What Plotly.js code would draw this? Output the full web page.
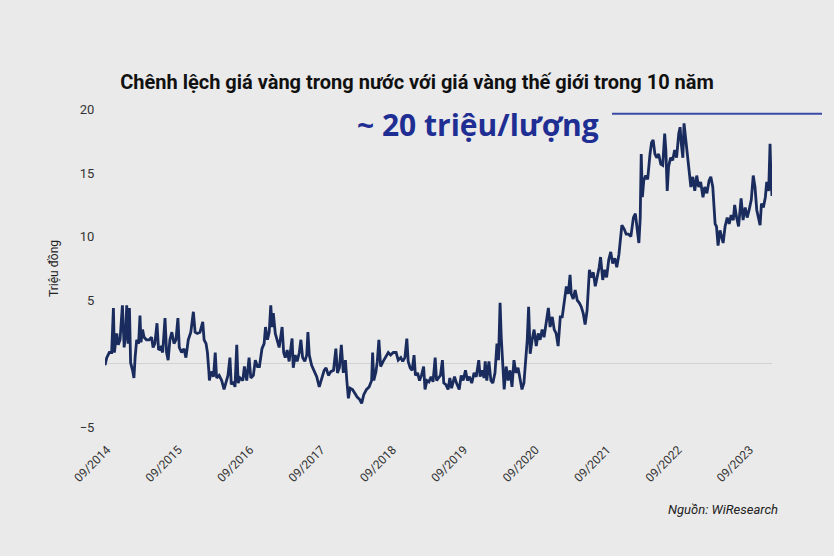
<!DOCTYPE html>
<html>
<head>
<meta charset="utf-8">
<script src="https://cdn.plot.ly/plotly-3.0.1.min.js"></script>
<style>
  html, body { margin: 0; padding: 0; background: #eaeaea; }
  #chart { width: 834px; height: 556px; }
</style>
</head>
<body>
<div id="chart"></div>
<script>
// Chênh lệch giá vàng (triệu đồng/lượng)
const dates = [
  '2014-08-21','2014-08-30','2014-09-12','2014-09-24','2014-10-03','2014-10-08','2014-10-20','2014-10-28',
  '2014-11-06','2014-11-18','2014-11-27','2014-12-05','2014-12-10','2014-12-17','2014-12-24','2014-12-30',
  '2015-01-09','2015-01-16','2015-01-22','2015-01-30','2015-02-09','2015-02-16','2015-02-21','2015-03-01',
  '2015-03-09','2015-03-21','2015-04-04','2015-04-16','2015-04-24','2015-05-03','2015-05-14','2015-05-22',
  '2015-06-02','2015-06-12','2015-06-24','2015-07-02','2015-07-10','2015-07-19','2015-07-29','2015-08-09',
  '2015-08-19','2015-08-29','2015-09-05','2015-09-17','2015-09-29','2015-10-09','2015-10-21','2015-11-03',
  '2015-11-16','2015-11-25','2015-12-06','2015-12-20','2016-01-03','2016-01-10','2016-01-20','2016-01-27',
  '2016-02-03','2016-02-06','2016-02-15','2016-02-27','2016-03-07','2016-03-14','2016-03-27','2016-04-09',
  '2016-04-21','2016-05-01','2016-05-11','2016-05-21','2016-05-28','2016-06-08','2016-06-16','2016-06-25',
  '2016-07-02','2016-07-12','2016-07-26','2016-08-03','2016-08-15','2016-08-27','2016-09-05','2016-09-18',
  '2016-09-28','2016-10-09','2016-10-19','2016-11-01','2016-11-12','2016-11-19','2016-11-29','2016-12-08',
  '2016-12-16','2016-12-23','2016-12-29','2017-01-08','2017-01-17','2017-01-28','2017-02-12','2017-02-20',
  '2017-02-28','2017-03-10','2017-03-20','2017-04-04','2017-04-10','2017-04-20','2017-04-30','2017-05-11',
  '2017-05-19','2017-05-28','2017-06-08','2017-06-18','2017-06-24','2017-07-01','2017-07-13','2017-07-25',
  '2017-08-08','2017-08-21','2017-09-03','2017-09-15','2017-09-25','2017-10-07','2017-10-19','2017-11-02',
  '2017-11-14','2017-11-22','2017-12-02','2017-12-12','2017-12-22','2018-01-02','2018-01-09','2018-01-17',
  '2018-01-26','2018-02-07','2018-02-19','2018-03-03','2018-03-16','2018-03-26','2018-04-06','2018-04-20',
  '2018-05-03','2018-05-16','2018-05-21','2018-05-27','2018-06-07','2018-06-14','2018-06-22','2018-07-01',
  '2018-07-14','2018-07-26','2018-08-09','2018-08-21','2018-09-04','2018-09-18','2018-09-29','2018-10-12',
  '2018-10-22','2018-11-02','2018-11-12','2018-11-19','2018-11-29','2018-12-09','2018-12-19','2018-12-26',
  '2019-01-06','2019-01-16','2019-01-26','2019-02-06','2019-02-13','2019-02-23','2019-03-05','2019-03-16',
  '2019-03-26','2019-04-06','2019-04-13','2019-04-23','2019-05-03','2019-05-13','2019-05-20','2019-05-30',
  '2019-06-11','2019-06-20','2019-06-29','2019-07-14','2019-07-24','2019-08-07','2019-08-17','2019-08-27',
  '2019-09-08','2019-09-18','2019-09-28','2019-10-10','2019-10-22','2019-11-02','2019-11-15','2019-11-22',
  '2019-12-02','2019-12-12','2019-12-18','2019-12-26','2020-01-06','2020-01-16','2020-01-26','2020-02-06',
  '2020-02-16','2020-02-24','2020-03-03','2020-03-09','2020-03-16','2020-03-24','2020-04-03','2020-04-13',
  '2020-04-23','2020-05-03','2020-05-13','2020-05-23','2020-06-03','2020-06-13','2020-06-23','2020-07-03',
  '2020-07-13','2020-07-20','2020-07-27','2020-08-04','2020-08-14','2020-08-24','2020-09-04','2020-09-14',
  '2020-09-24','2020-10-04','2020-10-14','2020-10-24','2020-11-05','2020-11-14','2020-11-25','2020-12-05',
  '2020-12-15','2020-12-25','2021-01-05','2021-01-15','2021-01-25','2021-02-05','2021-02-15','2021-02-24',
  '2021-03-02','2021-03-12','2021-03-22','2021-04-02','2021-04-12','2021-04-22','2021-05-02','2021-05-12',
  '2021-05-22','2021-06-03','2021-06-13','2021-06-23','2021-07-03','2021-07-13','2021-07-23','2021-07-30',
  '2021-08-10','2021-08-20','2021-08-30','2021-09-10','2021-09-20','2021-09-30','2021-10-11','2021-10-21',
  '2021-11-01','2021-11-16','2021-11-28','2021-12-08','2021-12-20','2022-01-01','2022-01-14','2022-01-24',
  '2022-02-04','2022-02-11','2022-02-18','2022-02-23','2022-03-01','2022-03-08','2022-03-18','2022-03-28',
  '2022-04-09','2022-04-17','2022-04-25','2022-05-04','2022-05-13','2022-05-23','2022-06-03','2022-06-13',
  '2022-06-23','2022-06-29','2022-07-06','2022-07-13','2022-07-23','2022-08-03','2022-08-13','2022-08-23',
  '2022-09-03','2022-09-10','2022-09-16','2022-09-24','2022-09-30','2022-10-07','2022-10-14','2022-10-21',
  '2022-10-27','2022-11-04','2022-11-14','2022-11-24','2022-12-04','2022-12-14','2022-12-24','2023-01-05',
  '2023-01-14','2023-01-25','2023-02-05','2023-02-14','2023-02-24','2023-03-02','2023-03-08','2023-03-15',
  '2023-03-23','2023-04-02','2023-04-10','2023-04-18','2023-04-28','2023-05-09','2023-05-19','2023-05-29',
  '2023-06-09','2023-06-16','2023-06-26','2023-07-06','2023-07-19','2023-07-29','2023-08-09','2023-08-19',
  '2023-08-29','2023-09-09','2023-09-19','2023-09-28','2023-10-07','2023-10-17','2023-10-24','2023-10-31',
  '2023-11-10','2023-11-20','2023-11-27','2023-12-07','2023-12-14','2023-12-19','2023-12-24'
];

const gap = [
  -0.1, 0.5, 0.9, 0.9, 4.4, 0.9, 2.4, 1.5,
  1.9, 4.6, 1.3, 2.4, 4.6, 1.6, 4.4, 0.1,
  -0.5, -1.1, 0.5, 1.9, 1.6, 3.8, 1.7, 2.7,
  2.1, 1.9, 1.9, 2.1, 1.3, 1.6, 3.2, 1.1,
  1.3, 0.9, 3.6, 0.9, 0.3, 1.9, 2.5, 1.6,
  1.9, 3.6, 1.3, 0.9, 1.2, 0.5, 1.9, 2.5,
  4.1, 2.5, 2.4, 2.5, 3.3, 1.9, 1.6, 0.9,
  -0.5, -1.3, -0.6, -1.0, 0.9, -1.1, -0.9, -1.3,
  -2.0, -1.5, -0.9, 0.5, -1.6, -1.4, -1.8, 1.5,
  -1.5, -1.1, -1.3, -0.2, -1.3, 0.5, -1.1, -0.9,
  0.3, -0.2, -0.2, 1.2, 1.6, 2.9, 1.9, 2.5,
  4.6, 2.9, 4.0, 2.4, 1.9, 1.3, 2.9, 0.9,
  0.5, 1.1, 0.2, 2.0, -0.3, 0.7, 0.2, 0.9,
  1.9, 0.5, 0.2, 0.7, 2.5, 0.7, -0.1, -0.5,
  -1.0, -1.8, -1.0, -0.5, -0.3, -0.9, -0.6, -0.5,
  1.2, -0.7, -0.3, 1.5, -0.7, 0.3, -1.3, -2.7,
  -1.9, -2.0, -2.3, -2.6, -2.8, -3.1, -2.4, -2.0,
  -1.8, -1.3, 0.9, -1.3, -0.6, 0.2, 1.9, -0.2,
  0.2, 0.5, 0.9, 0.7, 0.9, 0.9, 0.3, 0.5,
  0.2, 0.5, 2.0, 0.2, -0.3, -0.5, 0.7, -0.9,
  -0.7, -1.3, -0.9, -0.2, -2.0, -1.3, -1.4, -1.0,
  -1.4, 0.5, -1.3, -1.1, -0.9, 0.3, -1.5, -1.6,
  -2.0, -1.1, -1.9, -1.0, -1.5, -2.0, -0.9, -1.3,
  -0.5, -1.3, -1.0, -1.5, -0.7, -1.0, 0.3, -1.0,
  -0.5, -1.1, 0.2, -1.3, 0.2, -1.3, -1.5, -0.7,
  1.6, 0.3, 4.8, 2.1, -0.2, -2.0, -0.2, -1.3,
  -0.5, -1.8, 0.3, -0.7, -0.3, -1.3, -2.0, -1.5,
  0.8, 1.9, 4.5, 0.8, 1.9, 2.7, 1.4, 2.4,
  1.9, 2.7, 2.1, 3.2, 4.4, 2.9, 3.7, 2.7,
  2.4, 1.4, 3.7, 3.7, 5.0, 6.1, 5.5, 7.0,
  5.5, 5.1, 5.8, 5.0, 4.8, 4.5, 4.0, 3.1,
  4.2, 7.4, 6.8, 7.2, 6.1, 6.8, 7.6, 8.4,
  6.6, 7.4, 6.8, 8.2, 8.8, 7.9, 8.3, 7.6,
  8.6, 10.9, 10.6, 10.2, 10.2, 10.0, 11.5, 11.8,
  10.2, 9.5, 11.5, 16.5, 13.1, 14.4, 14.8, 14.5,
  16.5, 17.4, 17.6, 16.5, 16.2, 16.5, 15.7, 15.6,
  18.1, 16.8, 13.6, 15.5, 16.2, 16.0, 16.8, 16.2,
  18.1, 18.6, 17.3, 16.2, 18.9, 17.8, 17.0, 16.0,
  14.7, 13.9, 14.7, 13.6, 14.8, 13.9, 14.3, 13.1,
  13.9, 13.4, 14.4, 14.7, 13.9, 11.8, 11.0, 10.8,
  9.3, 10.5, 10.0, 9.5, 10.8, 11.5, 11.0, 11.7,
  11.3, 12.5, 11.5, 10.8, 13.0, 11.3, 12.3, 11.5,
  12.1, 12.9, 14.8, 13.9, 12.1, 11.5, 10.9, 12.6,
  12.3, 13.1, 14.3, 13.6, 17.3, 14.4, 13.2
];

const xTickVals = ['2014-09-01','2015-09-01','2016-09-01','2017-09-01','2018-09-01',
                   '2019-09-01','2020-09-01','2021-09-01','2022-09-01','2023-09-01'];
const xTickText = ['09/2014','09/2015','09/2016','09/2017','09/2018',
                   '09/2019','09/2020','09/2021','09/2022','09/2023'];
const yTickVals = [-5, 5, 10, 15, 20];

const trace = {
    x: dates,
    y: gap,
    type: 'scatter',
    mode: 'lines',
    line: { color: '#1a2c5e', width: 2.8 },
    hoverinfo: 'skip'
};

const layout = {
    width: 834,
    height: 556,
    margin: { t: 103, b: 122, l: 105, r: 62 },
    paper_bgcolor: '#eaeaea',
    plot_bgcolor: '#eaeaea',
    font: { family: 'Roboto, sans-serif', color: '#333' },
    showlegend: false,
    title: {
        text: '<b>Chênh lệch giá vàng trong nước với giá vàng thế giới trong 10 năm</b>',
        font: { size: 20, color: '#111' },
        x: 0.5, xanchor: 'center',
        y: 1 - 82 / 556, yref: 'container', yanchor: 'middle'
    },
    xaxis: {
        type: 'date',
        range: ['2014-08-21', '2023-12-24'],
        tickvals: xTickVals,
        ticktext: xTickText,
        tickangle: -45,
        tickfont: { size: 12, color: '#333' },
        ticks: 'outside', ticklen: 3, tickcolor: 'rgba(0,0,0,0)',
        showgrid: false, zeroline: false, showline: false
    },
    yaxis: {
        range: [-5.5, 20.5],
        tickvals: yTickVals,
        tickfont: { size: 13, color: '#333' },
        ticks: 'outside', ticklen: 7, tickcolor: 'rgba(0,0,0,0)',
        showgrid: false, showline: false,
        zeroline: true, zerolinecolor: '#d2d2d2', zerolinewidth: 1,
        title: { text: 'Triệu đồng', font: { size: 12, color: '#222' }, standoff: 18 }
    },
    annotations: [
        {
            text: '<b>~ 20 triệu/lượng</b>',
            xref: 'paper', yref: 'paper',
            x: (478 - 105) / 667, y: (434 - 124) / 332,
            xanchor: 'center', yanchor: 'middle',
            showarrow: false,
            font: { family: '"Open Sans", Roboto, sans-serif', size: 30, color: '#1f2e93' }
        },
        {
            text: '<i>Nguồn: WiResearch</i>',
            xref: 'paper', yref: 'paper',
            x: (780 - 105) / 667, y: (434 - 510) / 332,
            xanchor: 'right', yanchor: 'middle',
            showarrow: false,
            font: { size: 13, color: '#222' }
        }
    ],
    shapes: [
        {
            type: 'line',
            xref: 'paper', yref: 'y',
            x0: (612 - 105) / 667, x1: (822 - 105) / 667,
            y0: 19.65, y1: 19.65,
            line: { color: '#3b4aa6', width: 2 }
        }
    ]
};

Plotly.newPlot('chart', [trace], layout, { displayModeBar: false, staticPlot: true });
</script>
</body>
</html>
